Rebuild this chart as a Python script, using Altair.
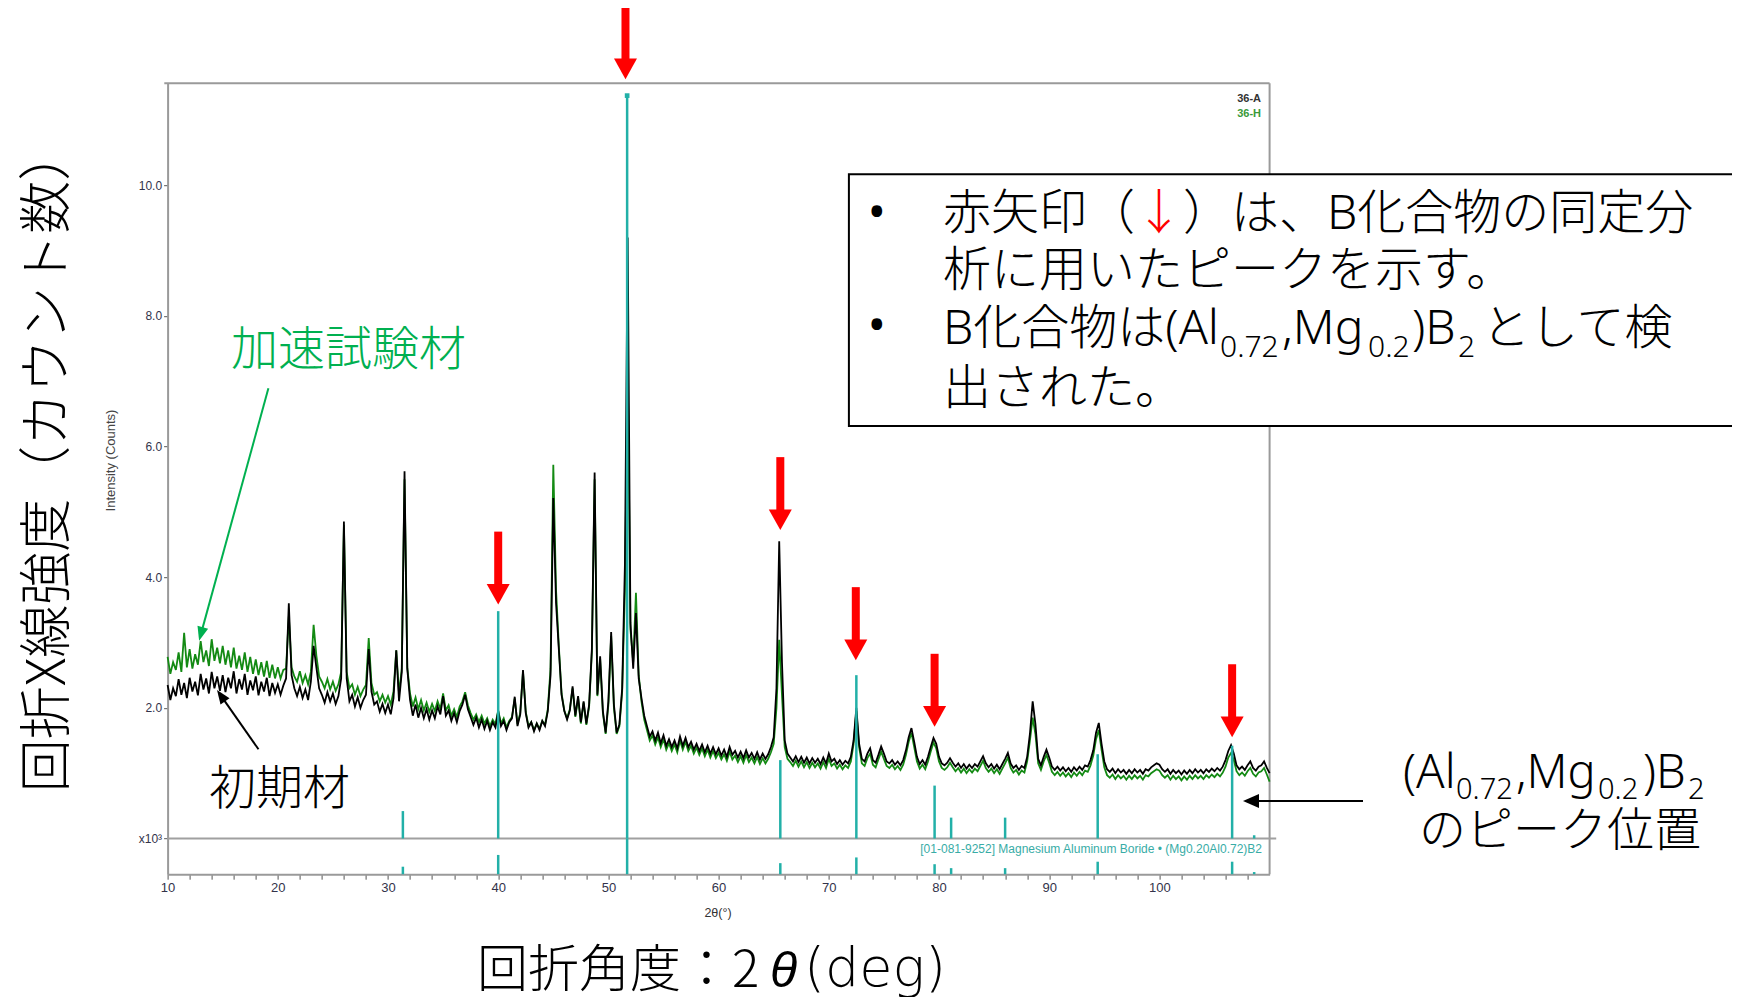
import math
import altair as alt
import pandas as pd

# ---------------- data (intensity in 10^3 counts) ----------------
STEP = 0.25  # 2theta sampling of the listed values, starting at 10 deg
black_36A = [
    2.35, 2.12, 2.30, 2.18, 2.44, 2.20, 2.38, 2.15, 2.46, 2.25, 2.40, 2.19, 2.52, 2.28, 2.45, 2.22, 2.55, 2.30, 2.48, 2.26,
    2.50, 2.24, 2.46, 2.30, 2.56, 2.22, 2.44, 2.28, 2.52, 2.20, 2.42, 2.27, 2.48, 2.19, 2.40, 2.25, 2.46, 2.18, 2.38, 2.23,
    2.36, 2.20, 2.34, 2.45, 3.60, 2.50, 2.30, 2.18, 2.32, 2.15, 2.28, 2.12, 2.40, 2.95, 2.62, 2.30, 2.20, 2.08, 2.24, 2.10,
    2.22, 2.06, 2.18, 2.45, 4.85, 2.45, 2.10, 2.20, 2.02, 2.16, 2.00, 2.12, 2.20, 2.90, 2.25, 2.05, 2.10, 1.94, 2.06, 1.92,
    2.05, 1.90, 2.15, 2.88, 2.10, 2.55, 5.62, 2.60, 2.12, 1.88, 2.05, 1.85, 2.00, 1.84, 1.98, 1.82, 1.96, 1.84, 2.02, 1.90,
    2.18, 1.88, 1.96, 1.80, 1.92, 1.78, 1.95, 2.05, 2.20, 1.98, 1.86, 1.74, 1.85, 1.70, 1.82, 1.68, 1.80, 1.66, 1.78, 1.70,
    1.95, 1.72, 1.80, 1.66, 1.78, 1.84, 2.17, 1.72, 1.90, 2.58, 1.92, 1.70, 1.78, 1.64, 1.76, 1.66, 1.80, 1.72, 1.95, 2.50,
    5.21, 3.60, 2.90, 2.20, 1.95, 1.82, 1.96, 2.33, 1.88, 2.18, 1.78, 2.10, 1.76, 2.05, 2.90, 5.60, 2.20, 2.79, 1.95, 1.62,
    2.10, 3.16, 2.05, 1.62, 1.75, 2.30, 4.20, 9.20, 3.30, 2.60, 3.45, 2.45, 2.15, 1.88, 1.72, 1.56, 1.64, 1.50, 1.62, 1.46,
    1.58, 1.42, 1.52, 1.40, 1.50, 1.38, 1.56, 1.42, 1.54, 1.40, 1.48, 1.36, 1.45, 1.34, 1.44, 1.32, 1.42, 1.30, 1.40, 1.29,
    1.38, 1.27, 1.36, 1.25, 1.40, 1.28, 1.34, 1.24, 1.33, 1.23, 1.35, 1.24, 1.31, 1.22, 1.32, 1.21, 1.30, 1.22, 1.29, 1.40,
    1.55, 2.30, 4.55, 2.70, 1.50, 1.30, 1.24, 1.18, 1.26, 1.17, 1.25, 1.16, 1.24, 1.15, 1.23, 1.16, 1.22, 1.14, 1.24, 1.15,
    1.30, 1.18, 1.22, 1.14, 1.20, 1.13, 1.19, 1.15, 1.25, 1.50, 2.00, 1.45, 1.22, 1.18, 1.30, 1.38, 1.20, 1.16, 1.28, 1.41,
    1.30, 1.18, 1.15, 1.20, 1.13, 1.18, 1.12, 1.20, 1.35, 1.55, 1.69, 1.48, 1.25, 1.14, 1.20, 1.13, 1.25, 1.40, 1.54, 1.45,
    1.25, 1.15, 1.12, 1.16, 1.23, 1.16, 1.10, 1.15, 1.08, 1.14, 1.07, 1.13, 1.08, 1.14, 1.10, 1.18, 1.26, 1.15, 1.09, 1.14,
    1.07, 1.13, 1.06, 1.14, 1.22, 1.31, 1.15, 1.08, 1.12, 1.05, 1.11, 1.08, 1.25, 1.60, 2.10, 1.75, 1.22, 1.12, 1.25, 1.36,
    1.24, 1.10, 1.05, 1.10, 1.04, 1.09, 1.03, 1.08, 1.02, 1.09, 1.04, 1.10, 1.05, 1.12, 1.10, 1.20, 1.35, 1.62, 1.77, 1.45,
    1.18, 1.06, 1.02, 1.07, 1.00, 1.06, 1.01, 1.05, 0.99, 1.05, 1.00, 1.06, 1.01, 1.05, 0.99, 1.06, 1.04, 1.09, 1.12, 1.15,
    1.13, 1.06, 1.02, 1.06, 0.99, 1.05, 1.00, 1.04, 0.98, 1.04, 0.99, 1.05, 1.00, 1.06, 1.01, 1.05, 1.00, 1.06, 1.02, 1.07,
    1.03, 1.08, 1.04, 1.10, 1.20, 1.34, 1.43, 1.30, 1.12, 1.06, 1.10, 1.05, 1.12, 1.18, 1.08, 1.04, 1.10, 1.12, 1.18, 1.08,
    1.00,
]
green_36H = [
    2.78, 2.52, 2.70, 2.58, 2.85, 2.55, 3.15, 2.62, 2.90, 2.60, 2.82, 2.66, 3.02, 2.70, 2.88, 2.64, 3.05, 2.72, 2.92, 2.68,
    2.95, 2.66, 2.88, 2.62, 2.92, 2.60, 2.80, 2.58, 2.85, 2.55, 2.78, 2.52, 2.74, 2.50, 2.70, 2.48, 2.72, 2.46, 2.66, 2.45,
    2.62, 2.45, 2.58, 2.60, 3.40, 2.62, 2.48, 2.40, 2.56, 2.38, 2.50, 2.36, 2.55, 3.27, 2.80, 2.48, 2.40, 2.30, 2.44, 2.28,
    2.40, 2.26, 2.36, 2.55, 4.80, 2.55, 2.30, 2.36, 2.20, 2.32, 2.18, 2.28, 2.35, 3.07, 2.38, 2.20, 2.24, 2.10, 2.20, 2.08,
    2.18, 2.05, 2.25, 2.88, 2.22, 2.60, 5.50, 2.62, 2.22, 2.02, 2.16, 1.98, 2.12, 1.96, 2.08, 1.94, 2.06, 1.95, 2.10, 1.98,
    2.22, 1.96, 2.04, 1.88, 1.98, 1.86, 2.02, 2.10, 2.24, 2.04, 1.92, 1.82, 1.90, 1.78, 1.88, 1.76, 1.84, 1.72, 1.82, 1.75,
    1.96, 1.76, 1.84, 1.70, 1.80, 1.86, 2.14, 1.75, 1.92, 2.55, 1.94, 1.72, 1.78, 1.66, 1.76, 1.68, 1.80, 1.74, 1.98, 2.60,
    5.72, 3.80, 2.95, 2.22, 1.96, 1.84, 1.98, 2.30, 1.86, 2.15, 1.76, 2.08, 1.74, 2.02, 2.85, 5.50, 2.18, 2.75, 1.92, 1.60,
    2.05, 3.10, 2.00, 1.60, 1.72, 2.25, 3.80, 7.30, 3.20, 2.70, 3.76, 2.50, 2.10, 1.82, 1.66, 1.50, 1.58, 1.44, 1.55, 1.40,
    1.52, 1.36, 1.46, 1.34, 1.44, 1.32, 1.50, 1.36, 1.48, 1.34, 1.42, 1.30, 1.39, 1.28, 1.38, 1.26, 1.36, 1.24, 1.34, 1.23,
    1.31, 1.21, 1.29, 1.19, 1.33, 1.21, 1.27, 1.17, 1.26, 1.16, 1.28, 1.17, 1.24, 1.15, 1.25, 1.14, 1.23, 1.15, 1.22, 1.32,
    1.45, 2.00, 3.04, 2.20, 1.40, 1.22, 1.17, 1.11, 1.19, 1.10, 1.18, 1.09, 1.17, 1.08, 1.16, 1.09, 1.15, 1.07, 1.17, 1.08,
    1.22, 1.11, 1.15, 1.07, 1.13, 1.06, 1.12, 1.08, 1.18, 1.45, 1.95, 1.40, 1.15, 1.11, 1.23, 1.30, 1.13, 1.09, 1.21, 1.33,
    1.22, 1.11, 1.08, 1.13, 1.06, 1.11, 1.05, 1.13, 1.28, 1.48, 1.62, 1.40, 1.18, 1.07, 1.13, 1.06, 1.18, 1.33, 1.47, 1.38,
    1.18, 1.08, 1.05, 1.09, 1.16, 1.09, 1.03, 1.08, 1.01, 1.07, 1.00, 1.06, 1.01, 1.07, 1.03, 1.11, 1.19, 1.08, 1.02, 1.07,
    1.00, 1.06, 0.99, 1.07, 1.15, 1.24, 1.08, 1.01, 1.05, 0.98, 1.04, 1.01, 1.18, 1.50, 1.85, 1.60, 1.15, 1.05, 1.18, 1.28,
    1.16, 1.02, 0.97, 1.02, 0.96, 1.01, 0.95, 1.00, 0.94, 1.01, 0.96, 1.02, 0.97, 1.04, 1.02, 1.12, 1.27, 1.52, 1.66, 1.36,
    1.09, 0.97, 0.93, 0.98, 0.91, 0.97, 0.92, 0.96, 0.90, 0.96, 0.91, 0.97, 0.92, 0.96, 0.90, 0.97, 0.95, 1.00, 1.03, 1.06,
    1.04, 0.97, 0.93, 0.97, 0.90, 0.96, 0.91, 0.95, 0.89, 0.95, 0.90, 0.96, 0.91, 0.97, 0.92, 0.96, 0.91, 0.97, 0.93, 0.98,
    0.94, 0.99, 0.95, 1.01, 1.10, 1.24, 1.31, 1.20, 1.03, 0.97, 1.01, 0.96, 1.03, 1.08, 0.99, 0.95, 1.01, 1.03, 1.08, 0.98,
    0.87,
]
two_theta = [round(10 + STEP * i, 2) for i in range(len(black_36A))]

# reference pattern [01-081-9252] (Mg0.20Al0.72)B2 : stick positions / heights
stick_pos = [31.35, 40.0, 51.7, 65.6, 72.5, 79.6, 81.1, 86.0, 94.4, 106.6, 108.6]
stick_main = [0.42, 3.48, 11.37, 1.20, 2.50, 0.81, 0.32, 0.32, 1.29, 1.42, 0.05]
stick_strip = [0.21, 0.54, 1.00, 0.31, 0.47, 0.28, 0.17, 0.17, 0.35, 0.35, 0.06]

# red arrows marking the peaks used for identification (x, arrow tip height)
arrow_pos = [40.0, 51.55, 65.6, 72.45, 79.6, 106.6]
arrow_tip = [3.58, 11.62, 4.72, 2.73, 1.71, 1.55]

x_ticks = list(range(10, 110, 2))
y_ticks = [0, 2, 4, 6, 8, 10]

# ---------------- layout ----------------
W, H = 1102, 791
PAD_L, PAD_T = 159.6, 75.2
PAD_R = 1724 - PAD_L - W
PAD_B = 989 - PAD_T - H
OX, OY = 8 + PAD_L, 8 + PAD_T          # page position of plot origin
YMIN, YMAX = -0.546, 11.56
PPU = H / (YMAX - YMIN)

JP = "Noto Sans CJK JP"
MIX = "Noto Sans, Noto Sans CJK JP"
LAT = "Liberation Sans"
TEAL = "#22b0a8"
RED = "#ff0000"
GREEN_TXT = "#00b050"
LIGHT = 300

xs = alt.Scale(domain=[10, 110], nice=False, zero=False)
ys = alt.Scale(domain=[YMIN, YMAX], nice=False, zero=False)
xax = alt.Axis(values=x_ticks, labelExpr="datum.value % 10 == 0 ? '' + datum.value : ''",
               title="", grid=False, domainColor="#9a9a9a", domainWidth=2, tickColor="#555555",
               tickSize=5, labelFont=LAT, labelFontSize=13, labelColor="#33334a", labelPadding=2,
               labelOverlap=False, labelFlush=False)
yax = alt.Axis(values=y_ticks, labelExpr="datum.value == 0 ? 'x10³' : format(datum.value, '.1f')",
               title="", grid=False, domainColor="#9a9a9a", domainWidth=2, tickColor="#555555",
               tickSize=4, labelFont=LAT, labelFontSize=12, labelColor="#33334a", labelPadding=2)


def X(f):
    return alt.X(f, scale=xs, axis=xax)


def Y(f):
    return alt.Y(f, scale=ys, axis=yax)


one = pd.DataFrame({"k": [0]})
layers = []

# frame (top and right border), y=0 separator
frame_top = pd.DataFrame({"a": [9.7], "b": [110.0], "y": [YMAX]})
frame_right = pd.DataFrame({"x": [110.0], "a": [YMIN], "b": [YMAX]})
sep = pd.DataFrame({"a": [10.0], "b": [110.6], "y": [0.0]})
layers.append(alt.Chart(frame_top).mark_rule(color="#9a9a9a", strokeWidth=2).encode(x=X("a:Q"), x2="b:Q", y=Y("y:Q")))
layers.append(alt.Chart(frame_right).mark_rule(color="#9a9a9a", strokeWidth=2).encode(x=X("x:Q"), y=Y("a:Q"), y2="b:Q"))
layers.append(alt.Chart(sep).mark_rule(color="#a0a0a0", strokeWidth=2).encode(x=X("a:Q"), x2="b:Q", y=Y("y:Q")))

# traces
trace = pd.DataFrame({"tt": two_theta, "A": black_36A, "H": green_36H})
layers.append(alt.Chart(trace).mark_line(color="#138a13", strokeWidth=1.8).encode(x=X("tt:Q"), y=Y("H:Q")))
layers.append(alt.Chart(trace).mark_line(color="#000000", strokeWidth=1.8).encode(x=X("tt:Q"), y=Y("A:Q")))

# reference sticks
st = pd.DataFrame({"pos": stick_pos, "top": stick_main, "frac": stick_strip})
st["zero"] = 0.0
st["s_lo"] = YMIN
st["s_hi"] = YMIN + st["frac"] * (0 - YMIN)
layers.append(alt.Chart(st).mark_rule(color=TEAL, strokeWidth=2.5).encode(x=X("pos:Q"), y=Y("zero:Q"), y2="top:Q"))
layers.append(alt.Chart(st).mark_rule(color=TEAL, strokeWidth=2.5).encode(x=X("pos:Q"), y=Y("s_lo:Q"), y2="s_hi:Q"))
layers.append(alt.Chart(st).transform_filter("datum.top > 10").mark_square(size=22, color=TEAL, opacity=1)
              .encode(x=X("pos:Q"), y=Y("top:Q")))

# red arrows
arr = pd.DataFrame({"pos": arrow_pos, "tip": arrow_tip})
arr["head"] = arr["tip"] + 10.35 / PPU
arr["lo"] = arr["tip"] + 18.5 / PPU
arr["hi"] = arr["tip"] + 73.0 / PPU
layers.append(alt.Chart(arr).mark_rule(color=RED, strokeWidth=8).encode(x=X("pos:Q"), y=Y("lo:Q"), y2="hi:Q"))
layers.append(alt.Chart(arr).mark_point(shape="M-1,-0.9L1,-0.9L0,0.9Z", size=529, filled=True, color=RED,
                                        opacity=1, strokeWidth=0).encode(x=X("pos:Q"), y=Y("head:Q")))


def txt(x, y, s, size, font=JP, color="#000000", align="left", baseline="alphabetic",
        angle=0, style="normal", weight="normal"):
    props = dict(align=align, baseline=baseline, fontSize=size, font=font, color=color,
                 fontStyle=style, fontWeight=weight)
    if angle:
        props["angle"] = angle
    return alt.Chart(pd.DataFrame({"t": [s]})).mark_text(**props).encode(
        x=alt.value(x - OX), y=alt.value(y - OY), text="t:N")


def pointer(x1, y1, x2, y2, color, head_len, head_w, width=2):
    dx, dy = x2 - x1, y2 - y1
    L = math.hypot(dx, dy)
    ux, uy = dx / L, dy / L
    ang = math.degrees(math.atan2(dy, dx)) % 360
    ex, ey = x2 - ux * (head_len - 2), y2 - uy * (head_len - 2)
    cx, cy = x2 - ux * head_len / 2, y2 - uy * head_len / 2
    w = head_w / head_len
    shape = f"M1,0L-1,{-w:.3f}L-1,{w:.3f}Z"
    line = alt.Chart(one).mark_rule(color=color, strokeWidth=width).encode(
        x=alt.value(x1 - OX), y=alt.value(y1 - OY), x2=alt.value(ex - OX), y2=alt.value(ey - OY))
    head = alt.Chart(one).mark_point(shape=shape, size=head_len ** 2, filled=True, color=color, opacity=1,
                                     strokeWidth=0, angle=ang).encode(x=alt.value(cx - OX), y=alt.value(cy - OY))
    return [line, head]


# small instrument texts
layers.append(txt(1261, 101.5, "36-A", 11, font=LAT, color="#333333", align="right", weight="bold"))
layers.append(txt(1261, 117, "36-H", 11, font=LAT, color="#3a9a3a", align="right", weight="bold"))
layers.append(txt(1262, 853, "[01-081-9252] Magnesium Aluminum Boride \u2022 (Mg0.20Al0.72)B2", 12,
                  font=LAT, color="#38aca6", align="right"))
layers.append(txt(111, 460.5, "Intensity (Counts)", 13, font=LAT, color="#444444", align="center",
                  baseline="middle", angle=270))
layers.append(txt(718, 916.5, "2θ(°)", 12.5, font=LAT, color="#333333", align="center"))

# pointers and their labels
layers += pointer(268.4, 388.3, 199.1, 640.7, GREEN_TXT, 14, 11)
layers += pointer(258.5, 749.3, 217.0, 690.0, "#000000", 14, 11)
layers += pointer(1363, 801, 1243, 801, "#000000", 16, 14)
layers.append(txt(231, 364.5, "加速試験材", 47, color=GREEN_TXT, weight=LIGHT))
layers.append(txt(209, 804, "初期材", 47, weight=LIGHT))

# note box
layers.append(alt.Chart(one).mark_rect(fill="white", stroke="black", strokeWidth=2).encode(
    x=alt.value(848.9 - OX), x2=alt.value(1745 - OX), y=alt.value(174.2 - OY), y2=alt.value(426.1 - OY)))
layers.append(txt(876.7, 228, "\u2022", 48, font=MIX, align="center"))
layers.append(txt(876.7, 341, "\u2022", 48, font=MIX, align="center"))
layers.append(txt(943, 229, "赤矢印（", 48, weight=LIGHT))
layers.append(txt(1135, 229, "↓", 48, color=RED, weight=LIGHT))
layers.append(txt(1183, 229, "）は、B化合物の同定分", 48, font=MIX, weight=LIGHT))
layers.append(txt(943, 286, "析に用いたピークを示す。", 48, weight=LIGHT))
layers.append(txt(943, 344, "B化合物は(Al", 48, font=MIX, weight=LIGHT))
layers.append(txt(1220, 357, "0.72", 30, font=MIX, weight=LIGHT))
layers.append(txt(1282, 344, ",Mg", 48, font=MIX, weight=LIGHT))
layers.append(txt(1368, 357, "0.2", 30, font=MIX, weight=LIGHT))
layers.append(txt(1412, 344, ")B", 48, font=MIX, weight=LIGHT))
layers.append(txt(1458, 357, "2", 30, font=MIX, weight=LIGHT))
layers.append(txt(1482, 344, "として検", 48, weight=LIGHT))
layers.append(txt(943, 404, "出された。", 48, weight=LIGHT))

# right-hand annotation
layers.append(txt(1403, 788, "(Al", 47, font=MIX, weight=LIGHT))
layers.append(txt(1456, 798.5, "0.72", 29, font=MIX, weight=LIGHT))
layers.append(txt(1516, 788, ",Mg", 47, font=MIX, weight=LIGHT))
layers.append(txt(1598, 798.5, "0.2", 29, font=MIX, weight=LIGHT))
layers.append(txt(1643, 788, ")B", 47, font=MIX, weight=LIGHT))
layers.append(txt(1688, 798.5, "2", 29, font=MIX, weight=LIGHT))
layers.append(txt(1419, 845.5, "のピーク位置", 47, weight=LIGHT))

# big axis titles
layers.append(txt(64.5, 460, "回折X線強度（カウント数）", 53, align="center", angle=270, weight=LIGHT))
layers.append(txt(477, 987, "回折角度：2", 51, weight=LIGHT))
layers.append(txt(770, 987, "θ", 50, font="Liberation Sans", style="italic"))
layers.append(txt(804, 986, "(deg)", 54, font="DejaVu Sans", weight=LIGHT))

chart = alt.layer(*layers).properties(
    width=W, height=H,
    autosize=alt.AutoSizeParams(type="none"),
    padding={"left": PAD_L, "top": PAD_T, "right": PAD_R, "bottom": PAD_B},
).configure_view(strokeWidth=0)

chart.save("out.html", embed_options={"renderer": "svg", "actions": False})
